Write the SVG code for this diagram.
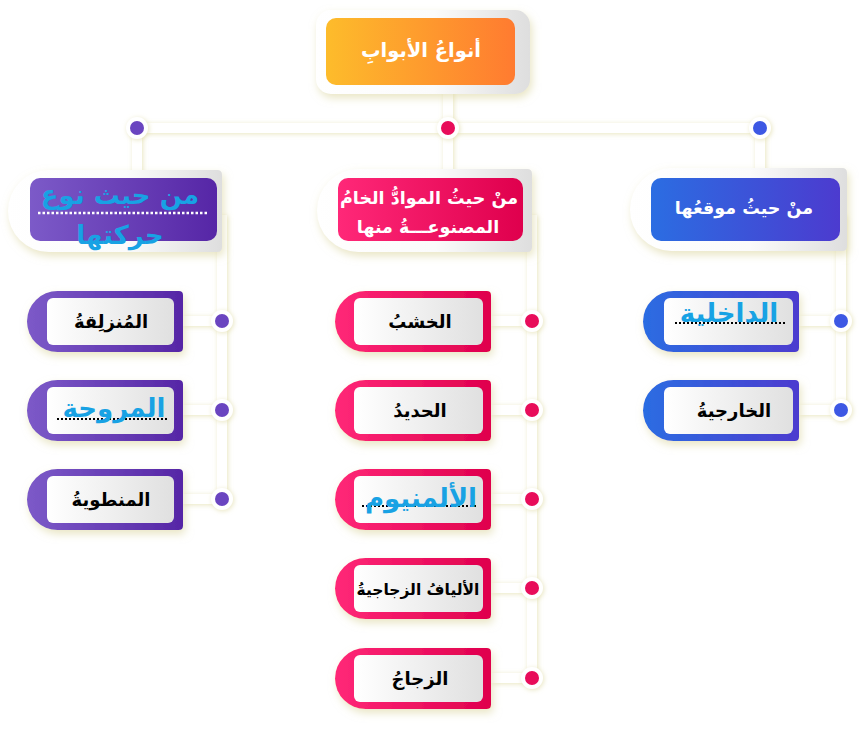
<svg xmlns="http://www.w3.org/2000/svg" width="862" height="738" viewBox="0 0 862 738">
<defs>
  <linearGradient id="gOrange" x1="0" y1="0" x2="1" y2="0"><stop offset="0" stop-color="#fdbc2b"/><stop offset="1" stop-color="#ff7b30"/></linearGradient>
  <linearGradient id="gPurple" x1="0" y1="0" x2="1" y2="0"><stop offset="0" stop-color="#7c5ac8"/><stop offset="1" stop-color="#5626a6"/></linearGradient>
  <linearGradient id="gCrimson" x1="0" y1="0" x2="1" y2="0"><stop offset="0" stop-color="#ff2878"/><stop offset="1" stop-color="#df004d"/></linearGradient>
  <linearGradient id="gBlue" x1="0" y1="0" x2="1" y2="0"><stop offset="0" stop-color="#2b6de2"/><stop offset="1" stop-color="#4c3bcf"/></linearGradient>
  <linearGradient id="gOuter" x1="0" y1="0" x2="1" y2="0"><stop offset="0" stop-color="#ffffff"/><stop offset="0.55" stop-color="#fbfbfb"/><stop offset="1" stop-color="#dedede"/></linearGradient>
  <linearGradient id="gInner" x1="0" y1="0" x2="1" y2="0"><stop offset="0" stop-color="#ffffff"/><stop offset="1" stop-color="#e0e0e0"/></linearGradient>
  <filter id="sh" x="-20%" y="-30%" width="140%" height="170%"><feDropShadow dx="2" dy="4" stdDeviation="4" flood-color="#ddd8a4" flood-opacity="0.65"/></filter>
  <filter id="glow" x="-5%" y="-5%" width="110%" height="110%"><feDropShadow dx="1" dy="1" stdDeviation="2.5" flood-color="#e4e0b0" flood-opacity="0.8"/></filter>
</defs>
<style>
  .ln{stroke:#ffffff;stroke-width:10;fill:none}
  .dw{fill:#ffffff}
  .dp{fill:#6b44c0}
  .dc{fill:#e8085a}
  .db{fill:#3c58e4}
  .outer{fill:url(#gOuter)}
  .inner{fill:url(#gInner)}
  .pur{fill:url(#gPurple)}
  .cri{fill:url(#gCrimson)}
  .blu{fill:url(#gBlue)}
  .lt{font-family:"DejaVu Sans","Liberation Sans",sans-serif;font-weight:bold;font-size:18px;fill:#000000;text-anchor:middle}
  .ht{font-family:"DejaVu Sans","Liberation Sans",sans-serif;font-weight:bold;font-size:17.5px;fill:#ffffff;text-anchor:middle}
  .cy{font-family:"DejaVu Sans","Liberation Sans",sans-serif;font-weight:bold;font-size:26px;fill:#18a2e4;text-anchor:middle}
  .dotk{stroke:#000000;stroke-width:2;stroke-dasharray:2 2;fill:none}
  .dotw2{stroke:#ffffff;stroke-width:2.5;stroke-dasharray:2.5 2;fill:none}
</style>

<g id="connectors">
  <path class="ln" filter="url(#glow)" d="M448,90 V128 M137,128 H760 M137,128 V180 M448,128 V180 M760,128 V180 M222,215 V499 M182,321 H222 M182,410 H222 M182,499 H222 M532,215 V678 M491,321 H532 M491,410 H532 M491,499 H532 M491,588 H532 M491,678 H532 M841,215 V410 M799,321 H841 M799,410 H841"/>
  <g filter="url(#glow)">
    <circle class="dw" cx="137" cy="128" r="11"/><circle class="dp" cx="137" cy="128" r="7"/>
    <circle class="dw" cx="448" cy="128" r="11"/><circle class="dc" cx="448" cy="128" r="7"/>
    <circle class="dw" cx="760" cy="128" r="11"/><circle class="db" cx="760" cy="128" r="7"/>
    <circle class="dw" cx="222" cy="321" r="11"/><circle class="dp" cx="222" cy="321" r="7"/>
    <circle class="dw" cx="222" cy="410" r="11"/><circle class="dp" cx="222" cy="410" r="7"/>
    <circle class="dw" cx="222" cy="499" r="11"/><circle class="dp" cx="222" cy="499" r="7"/>
    <circle class="dw" cx="532" cy="321" r="11"/><circle class="dc" cx="532" cy="321" r="7"/>
    <circle class="dw" cx="532" cy="410" r="11"/><circle class="dc" cx="532" cy="410" r="7"/>
    <circle class="dw" cx="532" cy="499" r="11"/><circle class="dc" cx="532" cy="499" r="7"/>
    <circle class="dw" cx="532" cy="588" r="11"/><circle class="dc" cx="532" cy="588" r="7"/>
    <circle class="dw" cx="532" cy="678" r="11"/><circle class="dc" cx="532" cy="678" r="7"/>
    <circle class="dw" cx="841" cy="321" r="11"/><circle class="db" cx="841" cy="321" r="7"/>
    <circle class="dw" cx="841" cy="410" r="11"/><circle class="db" cx="841" cy="410" r="7"/>
  </g>
</g>

<g id="root">
  <rect class="outer" filter="url(#sh)" x="316" y="10" width="214" height="84" rx="15"/>
  <rect fill="url(#gOrange)" x="326" y="18" width="189" height="67" rx="10"/>
  <text class="ht" x="421" y="57" style="font-size:19.5px">أنواعُ الأبوابِ</text>
</g>

<g id="cat-movement">
  <path class="outer" filter="url(#sh)" d="M49,170 H217 Q222,170 222,175 V247 Q222,252 217,252 H49 A41,41 0 0 1 49,170 Z"/>
  <rect class="pur" x="30" y="178" width="187" height="63" rx="10"/>
  <text class="cy" x="120" y="204">من حيث نوع</text>
  <line class="dotw2" x1="38" y1="213" x2="207" y2="213"/>
  <text class="cy" x="120" y="244">حركتها</text>
</g>

<g id="cat-material">
  <path class="outer" filter="url(#sh)" d="M358.5,169 H527 Q532,169 532,174 V247 Q532,252 527,252 H358.5 A41.5,41.5 0 0 1 358.5,169 Z"/>
  <rect class="cri" x="338" y="178" width="185" height="63" rx="10"/>
  <text class="ht" x="429" y="204">منْ حيثُ الموادُّ الخامُ</text>
  <text class="ht" x="428" y="233">المصنوعـــةُ منها</text>
</g>

<g id="cat-location">
  <path class="outer" filter="url(#sh)" d="M671.5,168 H842 Q847,168 847,173 V246 Q847,251 842,251 H671.5 A41.5,41.5 0 0 1 671.5,168 Z"/>
  <rect class="blu" x="651" y="178" width="189" height="63" rx="10"/>
  <text class="ht" x="744" y="214">منْ حيثُ موقعُها</text>
</g>

<g id="leaf-sliding">
  <path class="pur" filter="url(#sh)" d="M57.5,291 H179 Q183,291 183,295 V348 Q183,352 179,352 H57.5 A30.5,30.5 0 0 1 57.5,291 Z"/>
  <rect class="inner" x="47" y="298" width="127" height="47" rx="6"/>
  <text class="lt" x="111" y="328">المُنزلِقةُ</text>
</g>
<g id="leaf-revolving">
  <path class="pur" filter="url(#sh)" d="M57.5,380 H179 Q183,380 183,384 V437 Q183,441 179,441 H57.5 A30.5,30.5 0 0 1 57.5,380 Z"/>
  <rect class="inner" x="47" y="387" width="127" height="47" rx="6"/>
  <line class="dotk" x1="57" y1="419" x2="168" y2="419"/>
  <text class="cy" x="114" y="417">المروحة</text>
</g>
<g id="leaf-folding">
  <path class="pur" filter="url(#sh)" d="M57.5,469 H179 Q183,469 183,473 V526 Q183,530 179,530 H57.5 A30.5,30.5 0 0 1 57.5,469 Z"/>
  <rect class="inner" x="47" y="476" width="127" height="47" rx="6"/>
  <text class="lt" x="111" y="506">المنطويةُ</text>
</g>

<g id="leaf-wood">
  <path class="cri" filter="url(#sh)" d="M365.5,291 H487 Q491,291 491,295 V348 Q491,352 487,352 H365.5 A30.5,30.5 0 0 1 365.5,291 Z"/>
  <rect class="inner" x="354" y="298" width="129" height="47" rx="6"/>
  <text class="lt" x="420" y="328">الخشبُ</text>
</g>
<g id="leaf-iron">
  <path class="cri" filter="url(#sh)" d="M365.5,380 H487 Q491,380 491,384 V437 Q491,441 487,441 H365.5 A30.5,30.5 0 0 1 365.5,380 Z"/>
  <rect class="inner" x="354" y="387" width="129" height="47" rx="6"/>
  <text class="lt" x="420" y="417">الحديدُ</text>
</g>
<g id="leaf-aluminium">
  <path class="cri" filter="url(#sh)" d="M365.5,469 H487 Q491,469 491,473 V526 Q491,530 487,530 H365.5 A30.5,30.5 0 0 1 365.5,469 Z"/>
  <rect class="inner" x="354" y="476" width="129" height="47" rx="6"/>
  <line class="dotk" x1="362" y1="506" x2="476" y2="506"/>
  <text class="cy" x="421" y="507">الألمنيوم</text>
</g>
<g id="leaf-fiberglass">
  <path class="cri" filter="url(#sh)" d="M365.5,558 H487 Q491,558 491,562 V615 Q491,619 487,619 H365.5 A30.5,30.5 0 0 1 365.5,558 Z"/>
  <rect class="inner" x="354" y="565" width="129" height="47" rx="6"/>
  <text class="lt" x="418" y="595" style="font-size:15.5px">الأليافُ الزجاجيةُ</text>
</g>
<g id="leaf-glass">
  <path class="cri" filter="url(#sh)" d="M365.5,648 H487 Q491,648 491,652 V705 Q491,709 487,709 H365.5 A30.5,30.5 0 0 1 365.5,648 Z"/>
  <rect class="inner" x="354" y="655" width="129" height="47" rx="6"/>
  <text class="lt" x="420" y="685">الزجاجُ</text>
</g>

<g id="leaf-interior">
  <path class="blu" filter="url(#sh)" d="M673.5,291 H795 Q799,291 799,295 V348 Q799,352 795,352 H673.5 A30.5,30.5 0 0 1 673.5,291 Z"/>
  <rect class="inner" x="664" y="298" width="129" height="47" rx="6"/>
  <line class="dotk" x1="675" y1="323" x2="787" y2="323"/>
  <text class="cy" x="729" y="322">الداخلية</text>
</g>
<g id="leaf-exterior">
  <path class="blu" filter="url(#sh)" d="M673.5,380 H795 Q799,380 799,384 V437 Q799,441 795,441 H673.5 A30.5,30.5 0 0 1 673.5,380 Z"/>
  <rect class="inner" x="664" y="387" width="129" height="47" rx="6"/>
  <text class="lt" x="734" y="417">الخارجيةُ</text>
</g>
</svg>
